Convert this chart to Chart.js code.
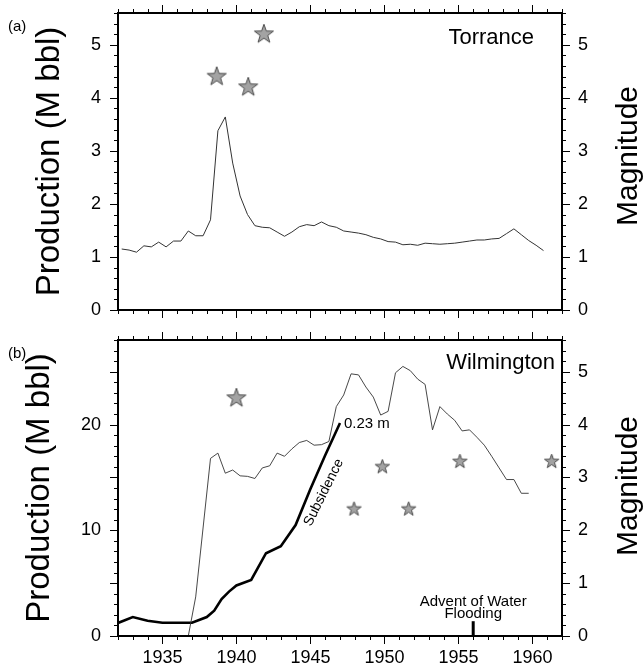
<!DOCTYPE html>
<html><head><meta charset="utf-8">
<script src="https://cdn.jsdelivr.net/npm/chart.js@4.4.1/dist/chart.umd.min.js"></script>
<style>
html,body{margin:0;padding:0;background:#fff;}
#wrap{position:relative;width:644px;height:668px;background:#fff;}
canvas{position:absolute;left:0;}
#c1{top:0}
#c2{top:322px}
</style></head><body>
<div id="wrap"><canvas id="c1" width="644" height="322"></canvas><canvas id="c2" width="644" height="346"></canvas></div>
<script>
// ---------------- data ----------------
const torranceYears = [1932.25,1932.75,1933.25,1933.75,1934.25,1934.75,1935.25,1935.75,1936.25,1936.75,
  1937.25,1937.75,1938.25,1938.75,1939.25,1939.75,1940.25,1940.75,1941.25,1941.75,
  1942.25,1942.75,1943.25,1943.75,1944.25,1944.75,1945.25,1945.75,1946.25,1946.75,
  1947.25,1947.75,1948.25,1948.75,1949.25,1949.75,1950.25,1950.75,1951.25,1951.75,
  1952.25,1952.75,1953.25,1953.75,1954.25,1954.75,1955.25,1955.75,1956.25,1956.75,
  1957.25,1957.75,1958.25,1958.75,1959.25,1959.75,1960.25,1960.75];
const torranceProd = [1.15,1.13,1.09,1.21,1.19,1.28,1.19,1.30,1.30,1.49,
  1.40,1.40,1.70,3.38,3.64,2.77,2.15,1.80,1.59,1.56,
  1.55,1.47,1.39,1.47,1.57,1.61,1.59,1.66,1.59,1.56,
  1.49,1.47,1.45,1.42,1.37,1.34,1.29,1.28,1.23,1.24,
  1.22,1.26,1.25,1.24,1.25,1.26,1.28,1.30,1.32,1.32,
  1.34,1.35,1.44,1.53,1.42,1.31,1.22,1.12];
const torranceQuakeYears = [1938.67, 1940.8, 1941.86];
const torranceQuakeMag = [4.4, 4.2, 5.2];

const wilmYears = [1936.75,1937.25,1938.25,1938.75,1939.25,1939.75,1940.25,1940.75,1941.25,1941.75,
  1942.25,1942.75,1943.25,1943.75,1944.25,1944.75,1945.25,1945.75,1946.25,1946.75,
  1947.25,1947.75,1948.25,1948.75,1949.25,1949.75,1950.25,1950.75,1951.25,1951.75,
  1952.25,1952.75,1953.25,1953.75,1954.25,1954.75,1955.25,1955.75,1956.25,1956.75,
  1957.25,1957.75,1958.25,1958.75,1959.25,1959.75];
const wilmProd = [0,3.7,16.8,17.3,15.4,15.7,15.15,15.1,14.9,15.9,
  16.1,17.3,17.0,17.7,18.3,18.5,18.05,18.1,18.4,21.7,
  22.8,24.8,24.7,23.55,22.6,20.9,21.25,24.9,25.5,25.1,
  24.3,23.8,19.5,21.7,21.0,20.4,19.4,19.5,18.8,18.05,
  17.0,15.9,14.8,14.8,13.5,13.5];
const subsYears = [1932,1933,1934,1935,1936,1937,1938,1938.5,1939,1939.5,1940,1941,1942,1943,1944,1945,1946,1947];
const subsLevel = [1.23,1.79,1.44,1.25,1.25,1.25,1.79,2.4,3.5,4.2,4.78,5.3,7.83,8.5,10.5,13.9,17.1,20.15];
const wilmQuakeYears = [1940.0, 1947.95, 1949.86, 1951.64, 1955.1, 1961.3];
const wilmQuakeMag = [4.5, 2.4, 3.2, 2.4, 3.3, 3.3];
const floodYears = [1956, 1956];
const floodLevel = [0, 1.4];

const xTickLabels = [1935,1940,1945,1950,1955,1960];
const torranceTicks = [0,1,2,3,4,5];
const wilmTicks = [0,10,20];
const magTicks = [0,1,2,3,4,5];

// ---------------- helpers ----------------
const FONT = "'Liberation Sans', Arial, Helvetica, sans-serif";
Chart.defaults.font.family = FONT;
Chart.defaults.color = '#000';

function starImg(r){
  const pad = 2, s = Math.ceil(2*r + 2*pad);
  const c = document.createElement('canvas'); c.width = s; c.height = s;
  const g = c.getContext('2d');
  const cx = s/2, cy = s/2;
  g.beginPath();
  for (let i = 0; i < 10; i++) {
    const rr = i % 2 === 0 ? r : r*0.4;
    const a = -Math.PI/2 + i*Math.PI/5;
    const px = cx + rr*Math.cos(a), py = cy + rr*Math.sin(a);
    if (i === 0) g.moveTo(px, py); else g.lineTo(px, py);
  }
  g.closePath();
  g.fillStyle = '#a3a3a3'; g.fill();
  g.lineWidth = 1; g.strokeStyle = '#4a4a4a'; g.stroke();
  return c;
}
const bigStar = starImg(10), smallStar = starImg(7.5);
const starStyle = ctx => (ctx.raw && ctx.raw.y >= 4) ? bigStar : smallStar;
const pts = (xs, ys) => xs.map((x, i) => ({x, y: ys[i]}));
const noPad = s => { s.paddingTop = 0; s.paddingBottom = 0; s.paddingLeft = 0; s.paddingRight = 0; };

function framePlugin(cfg){
  return {
    id: 'frameTicks',
    afterDraw(chart){
      const {ctx, chartArea: a, scales} = chart;
      ctx.save();
      ctx.strokeStyle = '#000';
      ctx.lineWidth = 1;
      const seg = (x1,y1,x2,y2) => { ctx.beginPath(); ctx.moveTo(x1,y1); ctx.lineTo(x2,y2); ctx.stroke(); };
      const xs = scales.x;
      for (let v = Math.ceil(xs.min); v <= xs.max + 1e-6; v++) {
        const len = v % cfg.xMajor === 0 ? 8 : 4;
        const p = Math.round(xs.getPixelForValue(v)) + 0.5;
        seg(p, a.bottom, p, a.bottom + len);
        seg(p, a.top, p, a.top - len);
      }
      const yl = scales.y;
      const nL = Math.floor(yl.max / cfg.leftMinor + 1e-6);
      for (let i = 0; i <= nL; i++) {
        const v = i * cfg.leftMinor;
        const maj = Math.abs(v / cfg.leftMajor - Math.round(v / cfg.leftMajor)) < 1e-6;
        const len = maj ? 8 : 4;
        const p = Math.round(yl.getPixelForValue(v)) + 0.5;
        seg(a.left - len, p, a.left, p);
      }
      const yr = scales.yMag;
      const nR = Math.floor(yr.max / cfg.rightMinor + 1e-6);
      for (let i = 0; i <= nR; i++) {
        const v = i * cfg.rightMinor;
        const maj = Math.abs(v / cfg.rightMajor - Math.round(v / cfg.rightMajor)) < 1e-6;
        const len = maj ? 8 : 4;
        const p = Math.round(yr.getPixelForValue(v)) + 0.5;
        seg(a.right, p, a.right + len, p);
      }
      ctx.lineWidth = 2;
      ctx.strokeRect(a.left, a.top, a.right - a.left, a.bottom - a.top);
      ctx.restore();
    }
  };
}

function txt(ctx, s, x, y, size, align, rot){
  ctx.save();
  ctx.font = size + 'px ' + FONT;
  ctx.fillStyle = '#000';
  ctx.textAlign = align || 'left';
  ctx.textBaseline = 'alphabetic';
  ctx.translate(x, y);
  if (rot) ctx.rotate(rot);
  ctx.fillText(s, 0, 0);
  ctx.restore();
}

function commonScales(leftMax, leftTicks, titlePad, xHeight, showXLabels){
  return {
    x: {type:'linear', min:1932, max:1962,
        grid:{display:false, drawTicks:false}, border:{display:false},
        afterBuildTicks(s){ s.ticks = xTickLabels.map(v => ({value:v})); },
        ticks:{display:showXLabels, font:{size:18}, padding:11, maxRotation:0, autoSkip:false, callback:v => String(v)},
        afterFit(s){ s.height = xHeight; noPad(s); }},
    y: {type:'linear', position:'left', min:0, max:leftMax,
        grid:{display:false, drawTicks:false}, border:{display:false},
        afterBuildTicks(s){ s.ticks = leftTicks.map(v => ({value:v})); },
        ticks:{font:{size:18}, padding:17, callback:v => String(v)},
        title:{display:true, text:'Production (M bbl)', font:{size:33}, padding:{top:titlePad, bottom:0}},
        afterFit(s){ s.width = 118; noPad(s); }},
    yMag: {type:'linear', position:'right', min:0, max:5.6,
        grid:{display:false, drawTicks:false}, border:{display:false},
        afterBuildTicks(s){ s.ticks = magTicks.map(v => ({value:v})); },
        ticks:{font:{size:18}, padding:16, callback:v => String(v)},
        afterFit(s){ s.width = 82; noPad(s); }}
  };
}

// ---------------- top panel: Torrance ----------------
new Chart(document.getElementById('c1'), {
  type: 'line',
  data: { datasets: [
    { label:'Torrance production', data: pts(torranceYears, torranceProd), yAxisID:'y',
      borderColor:'#333', borderWidth:1, pointRadius:0, tension:0 },
    { type:'scatter', label:'Torrance earthquakes', data: pts(torranceQuakeYears, torranceQuakeMag), yAxisID:'yMag',
      pointStyle: starStyle, pointRadius:5, clip:false }
  ]},
  options: {
    responsive:false, animation:false, devicePixelRatio:1,
    layout:{padding:{top:13, left:0, right:0, bottom:0}},
    plugins:{legend:{display:false}, tooltip:{enabled:false}},
    scales: commonScales(5.6, torranceTicks, 30, 12, false)
  },
  plugins:[framePlugin({xMajor:5, leftMinor:0.2, leftMajor:1, rightMinor:0.2, rightMajor:1}), {
    id:'annotTop',
    afterDraw(chart){
      const ctx = chart.ctx;
      txt(ctx, '(a)', 8, 31, 15, 'left');
      txt(ctx, 'Torrance', 534, 44, 22, 'right');
      txt(ctx, 'Magnitude', 637, 156, 30, 'center', -Math.PI/2);
    }
  }]
});

// ---------------- bottom panel: Wilmington ----------------
new Chart(document.getElementById('c2'), {
  type: 'line',
  data: { datasets: [
    { label:'Wilmington production', data: pts(wilmYears, wilmProd), yAxisID:'y',
      borderColor:'#333', borderWidth:0.9, pointRadius:0, tension:0 },
    { label:'Subsidence', data: pts(subsYears, subsLevel), yAxisID:'y',
      borderColor:'#000', borderWidth:2.6, pointRadius:0, tension:0 },
    { label:'Advent of Water Flooding', data: pts(floodYears, floodLevel), yAxisID:'y',
      borderColor:'#000', borderWidth:3, pointRadius:0, borderCapStyle:'butt' },
    { type:'scatter', label:'Wilmington earthquakes', data: pts(wilmQuakeYears, wilmQuakeMag), yAxisID:'yMag',
      pointStyle: starStyle, pointRadius:5, clip:false }
  ]},
  options: {
    responsive:false, animation:false, devicePixelRatio:1,
    layout:{padding:{top:18, left:0, right:0, bottom:0}},
    plugins:{legend:{display:false}, tooltip:{enabled:false}},
    scales: commonScales(28, wilmTicks, 20, 32, true)
  },
  plugins:[framePlugin({xMajor:5, leftMinor:1, leftMajor:5, rightMinor:0.2, rightMajor:1}), {
    id:'annotBottom',
    afterDraw(chart){
      const ctx = chart.ctx, xs = chart.scales.x, ys = chart.scales.y;
      txt(ctx, '(b)', 8, 36, 15, 'left');
      txt(ctx, 'Wilmington', 555, 47, 22, 'right');
      txt(ctx, 'Magnitude', 637, 164, 30, 'center', -Math.PI/2);
      const n = subsYears.length - 1;
      const ex = xs.getPixelForValue(subsYears[n]), ey = ys.getPixelForValue(subsLevel[n]);
      txt(ctx, '0.23 m', ex + 4, ey + 5, 15, 'left');
      const ax = xs.getPixelForValue(subsYears[n-3]), ay = ys.getPixelForValue(subsLevel[n-3]);
      const ang = Math.atan2(ey - ay, ex - ax) + 0.05;
      const mx = (ax + ex) / 2, my = (ay + ey) / 2;
      ctx.save();
      ctx.font = '14px ' + FONT; ctx.fillStyle = '#000';
      ctx.textAlign = 'center'; ctx.textBaseline = 'middle';
      ctx.translate(mx + 6, my + 18.5);
      ctx.rotate(ang);
      ctx.fillText('Subsidence', 0, 0);
      ctx.restore();
      const fx = xs.getPixelForValue(floodYears[1]), fy = ys.getPixelForValue(floodLevel[1]);
      txt(ctx, 'Flooding', fx, fy - 3, 15, 'center');
      txt(ctx, 'Advent of Water', fx, fy - 15.5, 15, 'center');
    }
  }]
});
</script>
</body></html>
